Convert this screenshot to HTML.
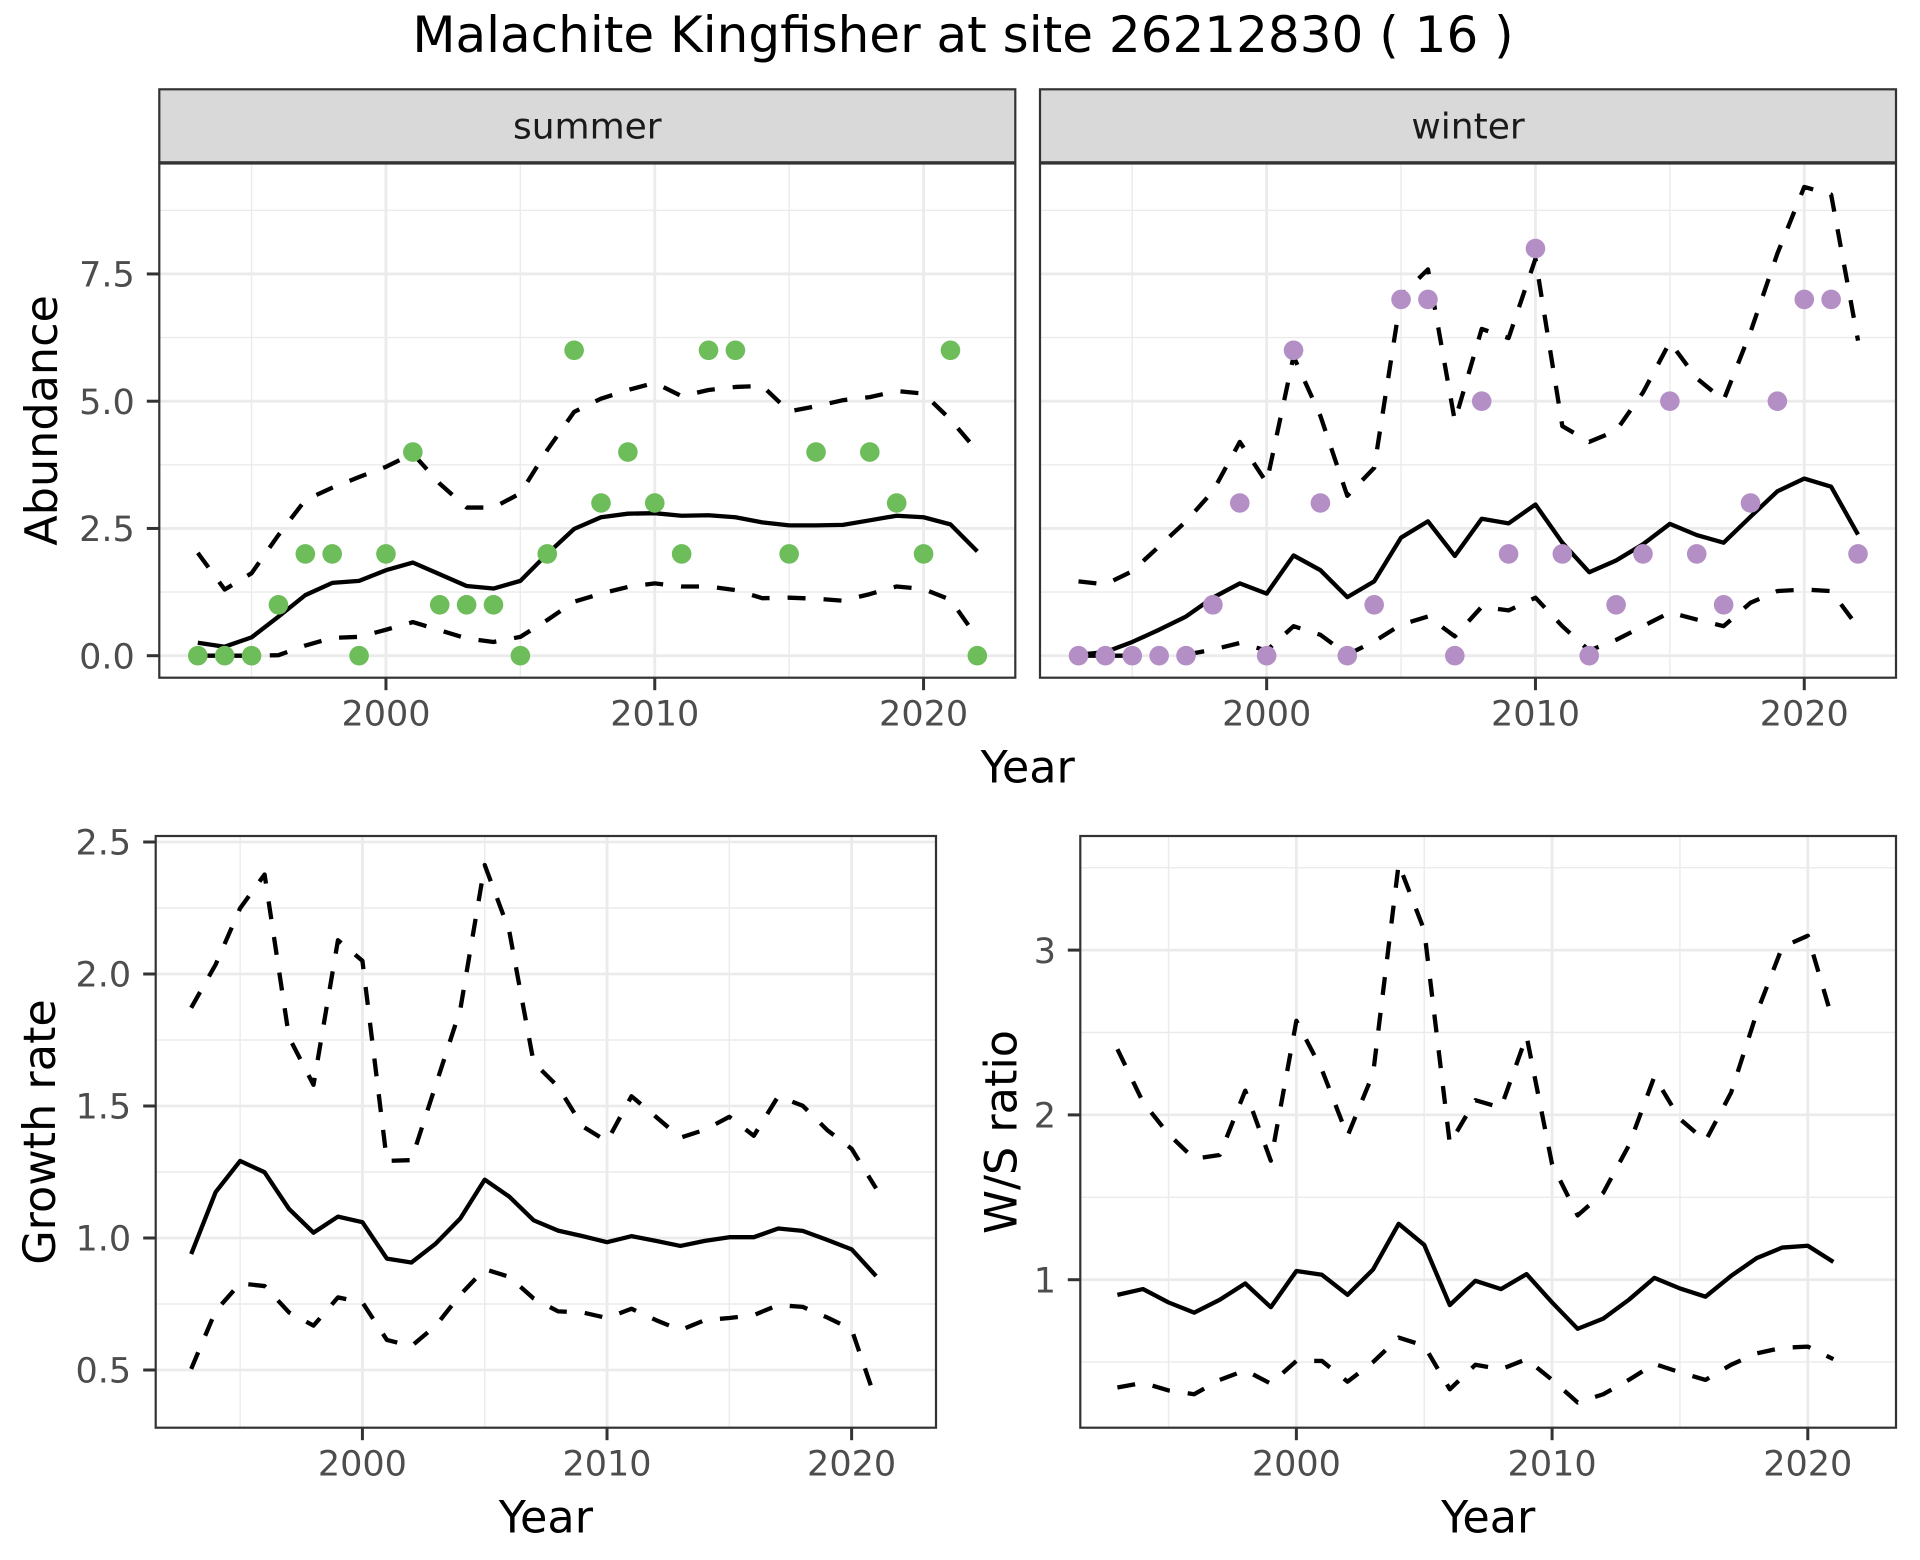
<!DOCTYPE html>
<html>
<head>
<meta charset="utf-8">
<style>
  html, body { margin: 0; padding: 0; background: #ffffff; }
  svg { display: block; }
  text { font-family: "DejaVu Sans", "Liberation Sans", sans-serif; }
  .tick { font-size: 35px; fill: #4D4D4D; }
  .axt { font-size: 44.5px; fill: #000000; }
  .strip { font-size: 36px; fill: #1A1A1A; }
</style>
</head>
<body>
<svg id="chart" xmlns="http://www.w3.org/2000/svg" width="1920" height="1560" viewBox="0 0 1920 1560">
  <rect x="0" y="0" width="1920" height="1560" fill="#ffffff"/>
  <g id="dyn"></g>

  <!-- Title -->
  <text x="963" y="52" font-size="50" text-anchor="middle" fill="#000">Malachite Kingfisher at site 26212830 ( 16 )</text>

  <!-- Strips -->
  <rect x="159.3" y="89.3" width="856" height="73" fill="#D9D9D9" stroke="#333333" stroke-width="2.2"/>
  <rect x="1040" y="89.3" width="856" height="73" fill="#D9D9D9" stroke="#333333" stroke-width="2.2"/>
  <text class="strip" x="587.3" y="138.3" text-anchor="middle">summer</text>
  <text class="strip" x="1468" y="138.3" text-anchor="middle">winter</text>

  <!-- Top-left y tick labels -->
  <text class="tick" x="134.8" y="668.4" text-anchor="end">0.0</text>
  <text class="tick" x="134.8" y="541.2" text-anchor="end">2.5</text>
  <text class="tick" x="134.8" y="413.9" text-anchor="end">5.0</text>
  <text class="tick" x="134.8" y="286.7" text-anchor="end">7.5</text>

  <!-- Top x tick labels -->
  <text class="tick" x="386" y="725.4" text-anchor="middle">2000</text>
  <text class="tick" x="654.8" y="725.4" text-anchor="middle">2010</text>
  <text class="tick" x="923.6" y="725.4" text-anchor="middle">2020</text>
  <text class="tick" x="1266.7" y="725.4" text-anchor="middle">2000</text>
  <text class="tick" x="1535.5" y="725.4" text-anchor="middle">2010</text>
  <text class="tick" x="1804.3" y="725.4" text-anchor="middle">2020</text>

  <!-- Bottom-left y tick labels -->
  <text class="tick" x="131.2" y="1382.7" text-anchor="end">0.5</text>
  <text class="tick" x="131.2" y="1250.7" text-anchor="end">1.0</text>
  <text class="tick" x="131.2" y="1118.7" text-anchor="end">1.5</text>
  <text class="tick" x="131.2" y="986.7" text-anchor="end">2.0</text>
  <text class="tick" x="131.2" y="854.7" text-anchor="end">2.5</text>

  <!-- Bottom-right y tick labels -->
  <text class="tick" x="1056" y="1292.4" text-anchor="end">1</text>
  <text class="tick" x="1056" y="1127.6" text-anchor="end">2</text>
  <text class="tick" x="1056" y="962.8" text-anchor="end">3</text>

  <!-- Bottom x tick labels -->
  <text class="tick" x="362.4" y="1475.4" text-anchor="middle">2000</text>
  <text class="tick" x="607" y="1475.4" text-anchor="middle">2010</text>
  <text class="tick" x="851.6" y="1475.4" text-anchor="middle">2020</text>
  <text class="tick" x="1296.4" y="1475.4" text-anchor="middle">2000</text>
  <text class="tick" x="1552.1" y="1475.4" text-anchor="middle">2010</text>
  <text class="tick" x="1807.8" y="1475.4" text-anchor="middle">2020</text>

  <!-- Axis titles -->
  <text class="axt" x="1027.7" y="782.7" text-anchor="middle">Year</text>
  <text class="axt" x="545.9" y="1532.5" text-anchor="middle">Year</text>
  <text class="axt" x="1488.2" y="1532.5" text-anchor="middle">Year</text>
  <text class="axt" transform="translate(57,420.4) rotate(-90)" text-anchor="middle">Abundance</text>
  <text class="axt" transform="translate(55,1132) rotate(-90)" text-anchor="middle">Growth rate</text>
  <text class="axt" transform="translate(1016.7,1132) rotate(-90)" text-anchor="middle">W/S ratio</text>
</svg>

<script>
(function(){
  var out = '';
  function ln(x1,y1,x2,y2,c,w){
    out += '<line x1="'+x1.toFixed(2)+'" y1="'+y1.toFixed(2)+'" x2="'+x2.toFixed(2)+'" y2="'+y2.toFixed(2)+'" stroke="'+c+'" stroke-width="'+w+'"/>';
  }
  function poly(p, arr, dashed){
    var pts = [];
    for (var i=0;i<arr.length;i++){
      if (arr[i]===null) continue;
      pts.push(p.X(1993+i).toFixed(2)+','+p.Y(arr[i]).toFixed(2));
    }
    out += '<polyline points="'+pts.join(' ')+'" fill="none" stroke="#000000" stroke-width="4.3" stroke-linejoin="round" stroke-linecap="butt"'+(dashed?' stroke-dasharray="18 18"':'')+'/>';
  }
  function dots(p, arr, col){
    for (var i=0;i<arr.length;i++){
      if (arr[i]===null) continue;
      out += '<circle cx="'+p.X(1993+i).toFixed(2)+'" cy="'+p.Y(arr[i]).toFixed(2)+'" r="9.8" fill="'+col+'"/>';
    }
  }
  function panel(p){
    out += '<rect x="'+p.x0+'" y="'+p.y0+'" width="'+(p.x1-p.x0)+'" height="'+(p.y1-p.y0)+'" fill="#ffffff"/>';
    p.ymin.forEach(function(v){ ln(p.x0,p.Y(v),p.x1,p.Y(v),'#EBEBEB',1.4); });
    p.xmin.forEach(function(y){ ln(p.X(y),p.y0,p.X(y),p.y1,'#EBEBEB',1.4); });
    p.ymaj.forEach(function(v){ ln(p.x0,p.Y(v),p.x1,p.Y(v),'#EBEBEB',2.8); });
    p.xmaj.forEach(function(y){ ln(p.X(y),p.y0,p.X(y),p.y1,'#EBEBEB',2.8); });
    poly(p, p.lo, true);
    poly(p, p.hi, true);
    poly(p, p.mid, false);
    if (p.pts) dots(p, p.pts, p.col);
    out += '<rect x="'+p.x0+'" y="'+p.y0+'" width="'+(p.x1-p.x0)+'" height="'+(p.y1-p.y0)+'" fill="none" stroke="#333333" stroke-width="2.2"/>';
    p.xmaj.forEach(function(y){ ln(p.X(y),p.y1,p.X(y),p.y1+12.5,'#333333',3); });
    if (p.yt) p.ymaj.forEach(function(v){ ln(p.x0-12.5,p.Y(v),p.x0,p.Y(v),'#333333',3); });
  }

  var xmaj=[2000,2010,2020], xmin=[1995,2005,2015];
  var topY = function(v){ return 655.7-50.9*v; };

  panel({x0:159.3,x1:1015.3,y0:163.5,y1:677.7,
    X:function(y){return 197.8+(y-1993)*26.88;}, Y:topY,
    xmaj:xmaj,xmin:xmin, ymaj:[0,2.5,5,7.5], ymin:[1.25,3.75,6.25,8.75], yt:true,
    mid:[0.255,0.177,0.36,0.766,1.19,1.43,1.47,1.68,1.83,1.60,1.37,1.32,1.47,2.0,2.49,2.72,2.79,2.80,2.75,2.76,2.72,2.62,2.56,2.56,2.57,2.66,2.75,2.72,2.58,2.05],
    hi:[2.02,1.30,1.62,2.37,3.06,3.30,3.51,3.71,3.97,3.38,2.91,2.91,3.19,4.04,4.79,5.05,5.22,5.36,5.10,5.22,5.28,5.30,4.80,4.90,5.02,5.08,5.20,5.15,4.64,4.02],
    lo:[0,0,0,0.01,0.20,0.35,0.37,0.51,0.66,0.50,0.34,0.27,0.37,0.70,1.06,1.22,1.35,1.42,1.36,1.36,1.29,1.13,1.14,1.12,1.08,1.21,1.36,1.31,1.10,0.35],
    pts:[0,0,0,1,2,2,0,2,4,1,1,1,0,2,6,3,4,3,2,6,6,null,2,4,null,4,3,2,6,0],
    col:'#6DBD5A'});

  panel({x0:1040,x1:1896,y0:163.5,y1:677.7,
    X:function(y){return 1078.5+(y-1993)*26.88;}, Y:topY,
    xmaj:xmaj,xmin:xmin, ymaj:[0,2.5,5,7.5], ymin:[1.25,3.75,6.25,8.75], yt:false,
    mid:[0.02,0.07,0.27,0.51,0.77,1.14,1.42,1.22,1.97,1.68,1.15,1.46,2.32,2.64,1.96,2.69,2.60,2.97,2.22,1.64,1.87,2.19,2.59,2.37,2.22,2.73,3.23,3.48,3.32,2.38],
    hi:[1.46,1.40,1.66,2.15,2.64,3.23,4.20,3.40,5.88,4.71,3.14,3.69,7.07,7.59,4.61,6.42,6.24,7.80,4.51,4.20,4.42,5.17,6.16,5.45,5.02,6.36,7.90,9.21,9.06,6.19],
    lo:[0,0,0,0,0.02,0.12,0.25,0.10,0.58,0.41,0.02,0.28,0.61,0.77,0.38,0.96,0.89,1.14,0.58,0.10,0.31,0.58,0.85,0.71,0.58,1.04,1.27,1.30,1.27,0.56],
    pts:[0,0,0,0,0,1,3,0,6,3,0,1,7,7,0,5,2,8,2,0,1,2,5,2,1,3,5,7,7,2],
    col:'#B48FC6'});

  panel({x0:155.7,x1:936,y0:836,y1:1427.7,
    X:function(y){return 191.2+(y-1993)*24.46;}, Y:function(v){return 842-264*(v-2.5);},
    xmaj:xmaj,xmin:xmin, ymaj:[0.5,1,1.5,2,2.5], ymin:[0.75,1.25,1.75,2.25], yt:true,
    mid:[0.939,1.174,1.292,1.249,1.11,1.02,1.081,1.06,0.922,0.907,0.979,1.074,1.221,1.157,1.067,1.028,1.007,0.984,1.007,0.989,0.970,0.989,1.003,1.003,1.036,1.027,0.993,0.957,0.856],
    hi:[1.872,2.036,2.249,2.377,1.76,1.58,2.128,2.05,1.292,1.295,1.58,1.865,2.413,2.164,1.665,1.573,1.423,1.366,1.537,1.459,1.380,1.41,1.459,1.387,1.537,1.501,1.409,1.338,1.188],
    lo:[0.504,0.724,0.828,0.818,0.718,0.668,0.775,0.756,0.614,0.590,0.668,0.785,0.882,0.853,0.771,0.722,0.718,0.697,0.732,0.689,0.651,0.689,0.697,0.708,0.746,0.739,0.699,0.654,0.383]});

  panel({x0:1080.3,x1:1896,y0:836,y1:1427.7,
    X:function(y){return 1117.4+(y-1993)*25.57;}, Y:function(v){return 1279.7-164.8*(v-1);},
    xmaj:xmaj,xmin:xmin, ymaj:[1,2,3], ymin:[0.5,1.5,2.5,3.5], yt:true,
    mid:[0.908,0.943,0.862,0.80,0.878,0.977,0.833,1.053,1.030,0.908,1.062,1.339,1.211,0.846,0.993,0.943,1.034,0.862,0.702,0.764,0.878,1.011,0.947,0.897,1.023,1.131,1.195,1.206,1.108],
    hi:[2.399,2.078,1.883,1.734,1.757,2.147,1.722,2.571,2.273,1.872,2.25,3.523,3.12,1.826,2.089,2.044,2.479,1.70,1.390,1.527,1.814,2.232,1.975,1.842,2.135,2.617,3.018,3.087,2.56],
    lo:[0.346,0.374,0.328,0.305,0.392,0.450,0.369,0.507,0.507,0.381,0.500,0.649,0.599,0.335,0.484,0.456,0.518,0.392,0.255,0.305,0.392,0.489,0.438,0.392,0.484,0.553,0.587,0.594,0.518]});

  document.getElementById('dyn').innerHTML = out;
})();
</script>
</body>
</html>
